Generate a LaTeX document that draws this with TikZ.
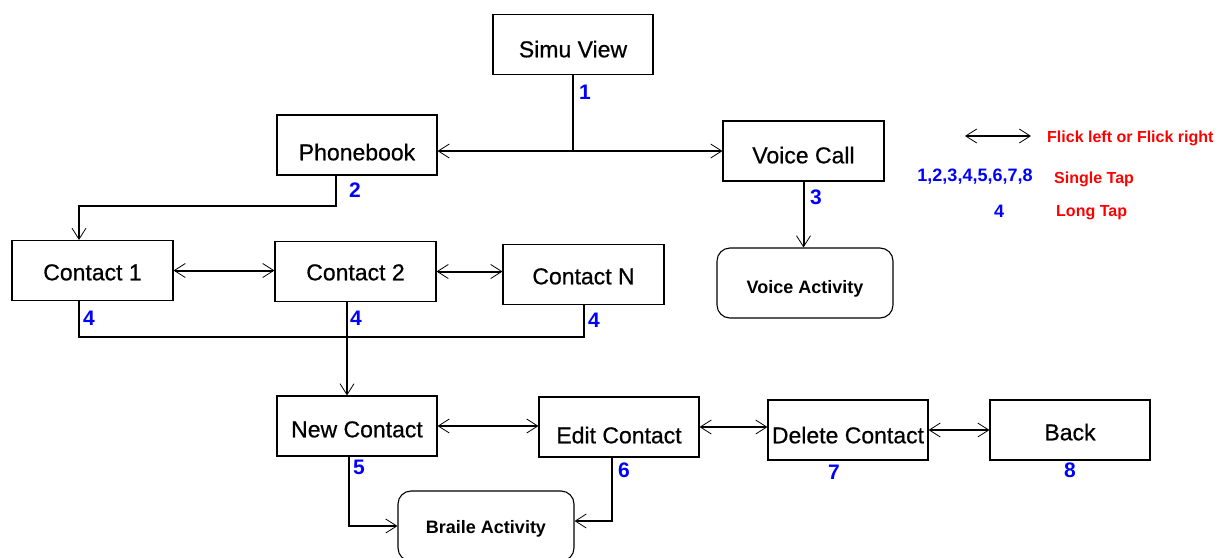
\documentclass[tikz,border=0pt]{standalone}
\usepackage{fontspec}
\setmainfont{Liberation Sans}
% slightly emboldened face for the screen names
\newfontfamily\screenfont{Liberation Sans}[FakeBold=0.6, AutoFakeBold=0.6]
\usetikzlibrary{arrows.meta}
\begin{document}
\begin{tikzpicture}[x=1pt,y=-1pt,
  box/.style={draw, line width=1.1pt, minimum width=160pt, minimum height=60pt, inner sep=0pt,
    font=\screenfont\fontsize{23}{26}\selectfont\bfseries, text height=16.6pt, text depth=0pt},
  act/.style={draw, line width=1.1pt, rounded corners=13pt, minimum width=176pt, minimum height=70pt,
    inner sep=0pt, font=\bfseries\fontsize{18}{21}\selectfont, text height=13pt, text depth=0pt},
  % lower the label inside a screen box by #1 (pt)
  drop/.style={text height={16.6pt+2*#1}},
  dropact/.style={text height={13pt+2*#1}},
  link/.style={line width=2pt},
  barb/.tip={Straight Barb[length=11pt,width=14pt,line width=0.8pt]},
  tip/.style={-barb},
  both/.style={barb-barb},
  num/.style={text=blue, inner sep=0pt, font=\bfseries\fontsize{21}{23}\selectfont},
  lnum/.style={text=blue, inner sep=0pt, font=\bfseries\fontsize{18}{20}\selectfont},
  leg/.style={text=red, anchor=west, inner sep=0pt, font=\bfseries\fontsize{16}{19}\selectfont}]

\useasboundingbox (0,0) rectangle (1217,557);

% screens
\node[box, drop=4.5pt] (simu)  at (573,44.5)  {Simu View};
\node[box, drop=7pt] (phone) at (357,145)   {Phonebook};
\node[box, drop=4pt, minimum width=161pt] (voice) at (803.5,151) {Voice Call};
\node[act, dropact=4pt] (vact)  at (805,283)   {Voice Activity};
\node[box, drop=1.5pt, minimum width=161pt] (c1) at (92.5,270.5) {Contact 1};
\node[box, drop=0.5pt, minimum width=161pt] (c2) at (355.5,271.5) {Contact 2};
\node[box, drop=1.5pt, minimum width=161pt] (cn) at (583.5,274.5) {Contact N};
\node[box, drop=3pt] (new)   at (357,426)   {New Contact};
\node[box, drop=8pt] (edit)  at (619,427)   {Edit Contact};
\node[box, drop=5pt] (del)   at (848,430)   {Delete Contact};
\node[box, drop=2pt] (back)  at (1070,430)  {Back};
\node[act, dropact=1pt] (brl)   at (486,526)   {Braile Activity};

% flows between screens
\draw[link] (simu.south) -- (simu.south |- voice.west);
\draw[link, both] (phone.east |- voice.west) -- (voice.west);
\draw[link, tip] ([xshift=-21pt]phone.south) -- ++(0,30) -| ([xshift=-13.5pt]c1.north);
\draw[link, tip] (voice.south) -- (voice.south |- vact.north);
\draw[link, both] (c1.east) -- (c1.east -| c2.west);
\draw[link, both] (c2.east) -- (c2.east -| cn.west);
\coordinate (bus) at (0,337);
\draw[link] ([xshift=-13.5pt]c1.south) |- (cn.south |- bus) -- (cn.south);
\draw[link, tip] ([xshift=-8.5pt]c2.south) -- ([xshift=-8.5pt]c2.south |- new.north);
\draw[link, both] (new.east) -- (new.east -| edit.west);
\draw[link, both] (edit.east) -- (edit.east -| del.west);
\draw[link, both] (del.east) -- (del.east -| back.west);
\draw[link, tip] ([xshift=-8pt]new.south) |- (brl.west);
\draw[link, tip] ([xshift=-7pt]edit.south) |- ([yshift=5pt]brl.east);

% gesture numbers
\node[num] (g1) at (585,92)  {1};
\node[num] (g2) at (355,190) {2};
\node[num] (g3) at (816,197) {3};
\node[num] (g4a) at (89,318)  {4};
\node[num] (g4b) at (356,318) {4};
\node[num] (g4c) at (594,320) {4};
\node[num] (g5) at (359,467) {5};
\node[num] (g6) at (624,470) {6};
\node[num] (g7) at (834,472) {7};
\node[num] (g8) at (1070,470) {8};

% legend
\coordinate (la) at (965,136);
\coordinate (lb) at (1031,136);
\draw[link, both] (la) -- (lb);
\node[leg] (lflick) at (1047,138) {Flick left or Flick right};
\node[lnum] (lnums) at (975,177) {1,2,3,4,5,6,7,8};
\node[leg] (lsingle) at (1054,179) {Single Tap};
\node[lnum] (lfour) at (999,211) {4};
\node[leg] (llong) at (1056,213) {Long Tap};
\end{tikzpicture}
\end{document}
